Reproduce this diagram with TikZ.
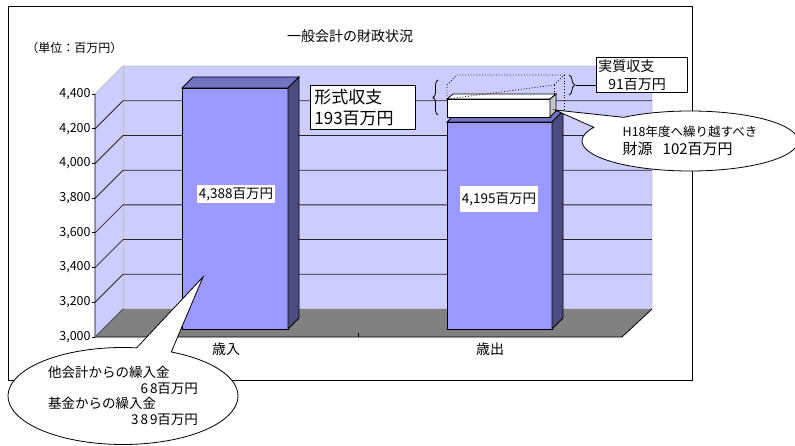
\documentclass[tikz,border=0pt]{standalone}
\usepackage{fontspec}
\setmainfont{Noto Sans CJK JP}
\usetikzlibrary{shapes.callouts,decorations.pathreplacing}
\definecolor{wall}{HTML}{CCCCFF}
\definecolor{walledge}{HTML}{C0C0C0}
\definecolor{floorgray}{HTML}{808080}
\definecolor{barfront}{HTML}{9999FF}
\definecolor{bartop}{HTML}{7373C4}
\definecolor{barside}{HTML}{4C4C80}
\pgfkeys{/pgf/number format/.cd,1000 sep={,},assume math mode=true}

\begin{document}
\begin{tikzpicture}[x=1pt,y=-1pt,line width=0.8pt,
    lab/.style={fill=white,inner sep=2pt,font=\fontsize{13.5}{16}\selectfont},
    axlab/.style={font=\fontsize{12.5}{15}\selectfont,anchor=east,inner sep=1pt},
    cat/.style={font=\fontsize{14}{16}\selectfont},
    balloon/.style={ellipse callout,draw,fill=white,inner sep=0pt,align=left}]

    \useasboundingbox (0,0) rectangle (795,446);

    % Define depth of the bars and grid step
    \def\bd{11}
    \def\gap{34.7}

    % Chart frame
    \draw (8,6) rectangle (692,380);
    \node[font=\fontsize{14}{16}\selectfont] (title) at (350,36) {一般会計の財政状況};
    \node[font=\fontsize{12}{14}\selectfont,anchor=west,inner sep=0pt] (unit) at (26,48) {（単位：百万円）};

    % Walls and floor
    \fill[wall] (123,309) rectangle (652,66);
    \fill[wall] (95,337) -- (95,94) -- (123,66) -- (123,309) -- cycle;
    \draw[walledge] (95,94) -- (123,66) -- (652,66) -- (652,309);
    \draw[walledge] (123,66) -- (123,309);
    \fill[floorgray] (95,337) -- (123,309) -- (652,309) -- (622,337) -- cycle;

    % Axis and grid
    \foreach \k in {0,...,7} {
        \pgfmathtruncatemacro\val{3000+200*\k}
        \draw (95,337-\gap*\k) -- ++(-3,0) node[axlab] {\pgfmathprintnumber{\val}};
    }
    \foreach \k in {1,...,6}
        \draw[black!85] (95,337-\gap*\k) -- ++(28,-28) -- (652,309-\gap*\k);
    \draw (95,94) -- (95,337) -- (622,337) -- (652,309);
    \draw[black!70] (95,337) -- (123,309);
    \draw (358,337) -- (358,333);

    % Bars
    \filldraw[fill=barfront] (182,88) rectangle (288,329);
    \filldraw[fill=bartop] (182,88) -- ++(\bd,-\bd) -- ++(106,0) -- (288,88) -- cycle;
    \filldraw[fill=barside] (288,88) -- ++(\bd,-\bd) -- ++(0,241) -- (288,329) -- cycle;
    \filldraw[fill=barfront] (447,122) rectangle (552,329);
    \filldraw[fill=bartop] (447,122) -- ++(\bd,-\bd) -- ++(105,0) -- (552,122) -- cycle;
    \filldraw[fill=barside] (552,122) -- ++(\bd,-\bd) -- ++(0,207) -- (552,329) -- cycle;

    % Carried over part and real balance
    \filldraw[fill=white] (447,99) rectangle (550,117);
    \filldraw[fill=white] (447,99) -- (453,94) -- (556,94) -- (550,99) -- cycle;
    \filldraw[fill=gray!45] (550,99) -- (556,94) -- (556,111) -- (550,117) -- cycle;
    \draw[dotted] (447,99) -- (447,85) -- (457,75) -- (564,75) -- (554,85) -- cycle;
    \draw[dotted] (554,85) -- (554,94) (564,75) -- (564,110);

    % Braces
    \draw[decorate,decoration={brace,amplitude=5pt}] (438,115) -- (438,80);
    \draw[decorate,decoration={brace,amplitude=6pt}] (569,75) -- (569,95);
    \coordinate (brR) at (576,85);

    % Boxes
    \node[draw,fill=white,anchor=north west,align=left,text width=97pt,inner xsep=4pt,inner ysep=3.5pt,
          font=\fontsize{17}{21}\selectfont] (formal) at (310,85) {形式収支\\193百万円};
    \node[draw,fill=white,anchor=north west,align=left,text width=87pt,inner xsep=2pt,inner ysep=2pt,
          font=\fontsize{14}{18}\selectfont] (real) at (596,57) {実質収支\\\hspace*{10pt}91百万円};
    \draw (brR) -- (brR -| real.west);

    \node[lab] (inc) at (236,194) {4,388百万円};
    \node[lab,minimum height=26pt] (exp) at (499,199) {4,195百万円};
    \node[cat] (incl) at (226,349) {歳入};
    \node[cat] (expl) at (490,349) {歳出};

    % Callouts
    \coordinate (tipR) at (555,110);
    \node[balloon,minimum width=216pt,minimum height=60pt,callout absolute pointer={(tipR)},
          callout pointer arc=25,font=\fontsize{12.5}{18}\selectfont] (carry) at (690,141)
          {H18年度へ繰り越すべき\\{\fontsize{15}{18}\selectfont 財源\hspace{10pt}102百万円}};
    \coordinate (tipL) at (203,277);
    \node[balloon,minimum width=230pt,minimum height=97pt,callout absolute pointer={(tipL)},
          callout pointer arc=18,text width=150pt,font=\fontsize{13.5}{15.7}\selectfont] (transfer) at (123,396)
          {他会計からの繰入金\\\hspace*{\fill}6\hspace{2pt}8百万円\\基金からの繰入金\\\hspace*{\fill}3\hspace{2pt}8\hspace{2pt}9百万円};

\end{tikzpicture}
\end{document}
